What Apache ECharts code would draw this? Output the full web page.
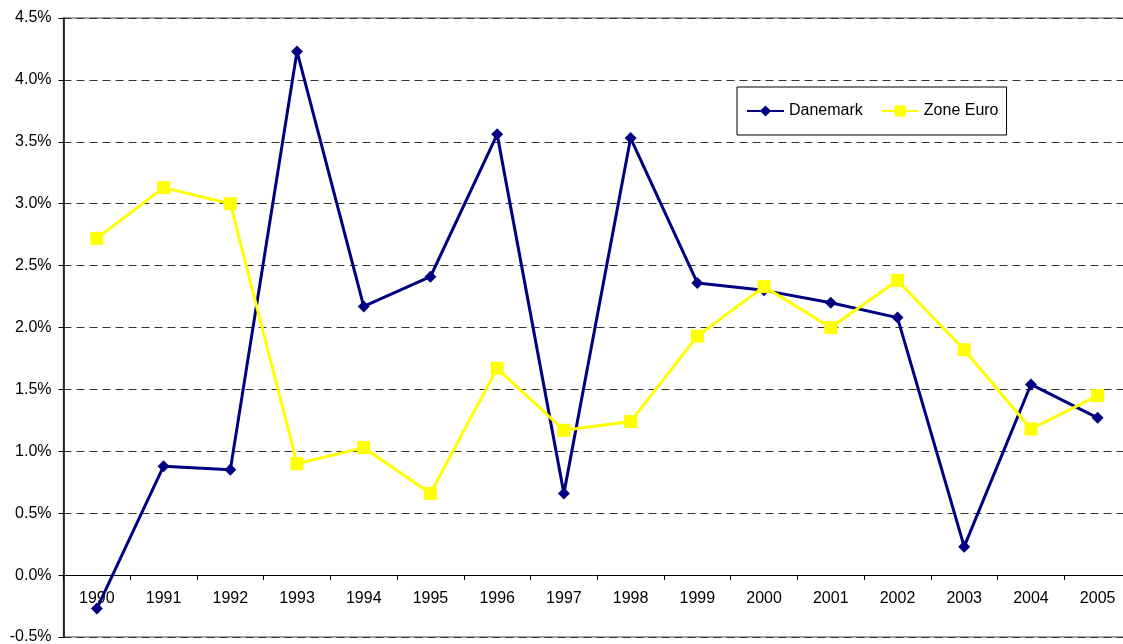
<!DOCTYPE html>
<html>
<head>
  <meta charset="utf-8">
  <title>Danemark / Zone Euro</title>
  <script src="https://cdn.jsdelivr.net/npm/echarts@6/dist/echarts.min.js"></script>
  <style>
    html, body { margin: 0; padding: 0; background: #fff; }
    #main { width: 1123px; height: 644px; }
  </style>
</head>
<body>
  <div id="main"></div>
  <script>
  var years = ['1990', '1991', '1992', '1993', '1994', '1995', '1996', '1997',
               '1998', '1999', '2000', '2001', '2002', '2003', '2004', '2005'];
  var danemark = [-0.27, 0.88, 0.85, 4.23, 2.17, 2.41, 3.56, 0.66,
                  3.53, 2.36, 2.30, 2.20, 2.08, 0.23, 1.54, 1.27];
  var zoneEuro = [2.72, 3.13, 3.00, 0.90, 1.03, 0.66, 1.67, 1.17,
                  1.24, 1.93, 2.33, 2.00, 2.38, 1.82, 1.18, 1.45];
  var yMin = -0.5, yMax = 4.5;

  var font = 'Liberation Sans, Arial, sans-serif';
  var gridTop = 18, gridBottom = 7;
  var plotH = 644 - gridTop - gridBottom;
  // distance of the 0% line above the bottom of the plot
  var zeroOffset = plotH * (0 - yMin) / (yMax - yMin);

  var myChart = echarts.init(document.getElementById('main'));
  myChart.setOption({
    animation: false,
    textStyle: { fontFamily: font },
    grid: {
      left: 63.5, right: -8, top: gridTop, bottom: gridBottom,
      outerBoundsMode: 'none',
      containLabel: false,
      show: true, borderColor: '#888', borderWidth: 1.5
    },
    legend: {
      left: 737, top: 87,
      padding: [16, 8, 16, 9],
      borderColor: '#000', borderWidth: 1,
      itemWidth: 37, itemHeight: 14, itemGap: 18,
      textStyle: { fontSize: 16, color: '#000', fontFamily: font },
      data: ['Danemark', 'Zone Euro']
    },
    xAxis: {
      type: 'category',
      data: years,
      boundaryGap: true,
      offset: -zeroOffset,
      axisLine: { onZero: false, lineStyle: { color: '#000', width: 1 } },
      axisTick: { show: true, length: 5, lineStyle: { color: '#000' } },
      axisLabel: { fontSize: 16, color: '#000', margin: 15 },
      splitLine: { show: false }
    },
    yAxis: {
      type: 'value',
      min: yMin, max: yMax, interval: 0.5,
      axisLine: { show: true, lineStyle: { color: '#000', width: 1.5 } },
      axisTick: { show: true, length: 5, lineStyle: { color: '#000' } },
      axisLabel: {
        fontSize: 16, color: '#000', margin: 12,
        formatter: function (v) { return v.toFixed(1) + '%'; }
      },
      splitLine: { show: true, lineStyle: { color: '#333', type: [8, 5], width: 1 } }
    },
    series: [{
      name: 'Danemark',
      type: 'line',
      data: danemark,
      symbol: 'diamond',
      symbolSize: 12,
      itemStyle: { color: '#000080' },
      lineStyle: { color: '#000080', width: 3 }
    }, {
      name: 'Zone Euro',
      type: 'line',
      data: zoneEuro,
      symbol: 'rect',
      symbolSize: 13,
      itemStyle: { color: '#ffff00' },
      lineStyle: { color: '#ffff00', width: 3 }
    }]
  });
  </script>
</body>
</html>
